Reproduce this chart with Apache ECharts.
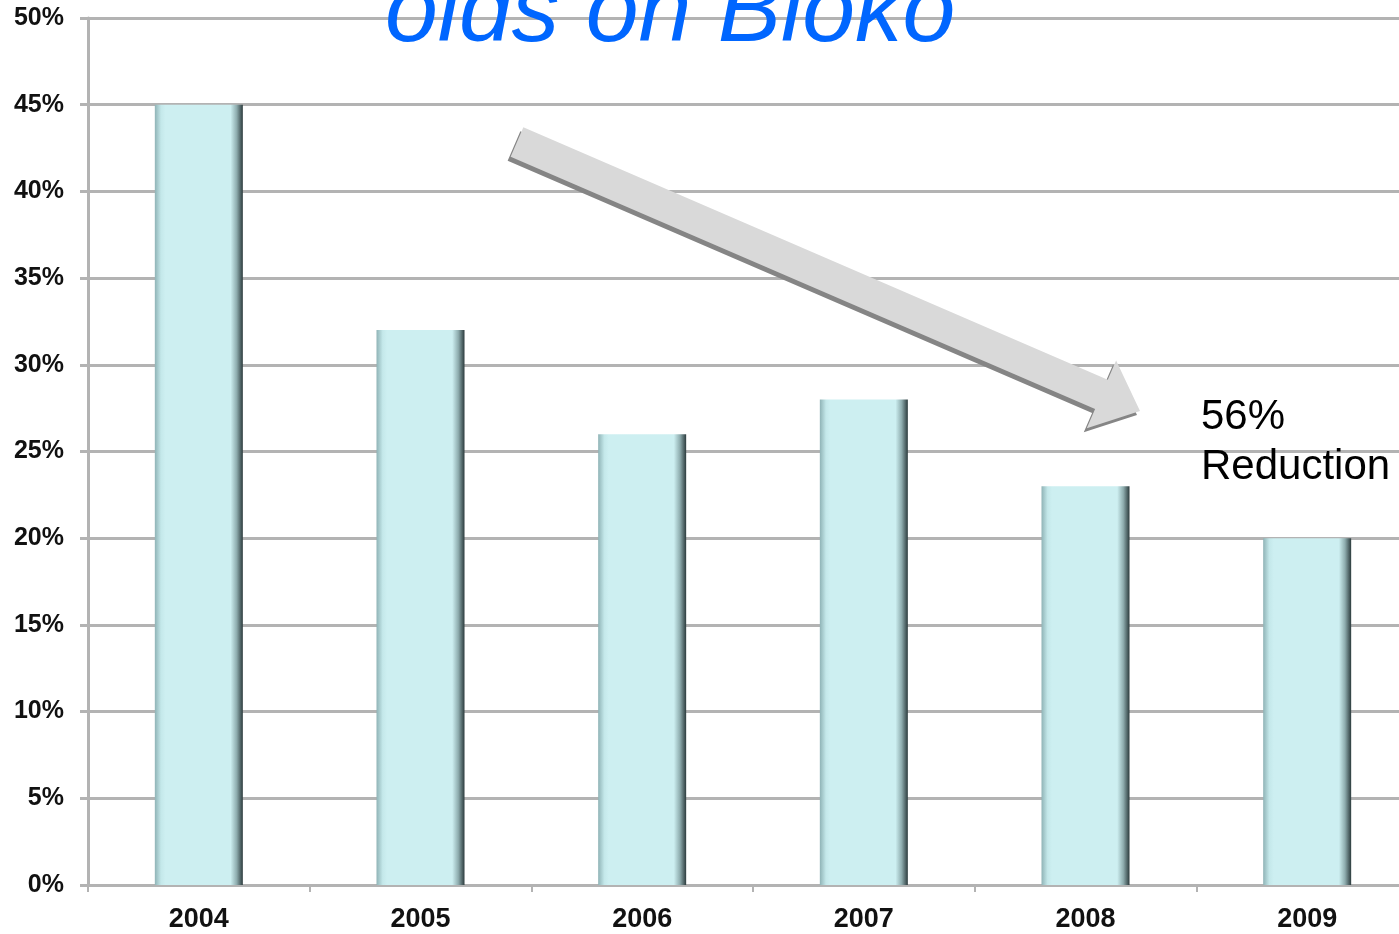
<!DOCTYPE html>
<html>
<head>
<meta charset="utf-8">
<script src="https://cdn.jsdelivr.net/npm/echarts@6/dist/echarts.min.js"></script>
<style>
html, body { margin: 0; padding: 0; background: #fff; overflow: hidden; }
/* the plot runs past the right edge of the window, as in the original slide */
#chart { width: 1418px; height: 934px; }
</style>
</head>
<body>
<div id="chart"></div>
<script>
// years and prevalence (%)
var years = ['2004', '2005', '2006', '2007', '2008', '2009'];
var prevalence = [45, 32, 26, 28, 23, 20];
var yTicks = [0, 5, 10, 15, 20, 25, 30, 35, 40, 45, 50];

var chart = echarts.init(document.getElementById('chart'));

// bevel look of the bars
var barColor = new echarts.graphic.LinearGradient(0, 0, 1, 0, [
	{ offset: 0, color: '#8fb3b6' },
	{ offset: 0.07, color: '#c4e8ea' },
	{ offset: 0.12, color: '#cdeff1' },
	{ offset: 0.86, color: '#cdeff1' },
	{ offset: 0.93, color: '#8eacae' },
	{ offset: 1, color: '#2c3b3d' }
]);

// arrow geometry (annotation)
function arrowPoints() {
	var tail = [517, 142], tip = [1140, 411];
	var dx = tip[0] - tail[0], dy = tip[1] - tail[1];
	var len = Math.sqrt(dx * dx + dy * dy);
	var ux = dx / len, uy = dy / len;
	var nx = -uy, ny = ux;
	var headLen = 42, shaftW = 16, headW = 37;
	var hx = tip[0] - ux * headLen, hy = tip[1] - uy * headLen;
	return [
		[tail[0] - nx * shaftW, tail[1] - ny * shaftW],
		[hx - nx * shaftW, hy - ny * shaftW],
		[hx - nx * headW, hy - ny * headW],
		tip,
		[hx + nx * headW, hy + ny * headW],
		[hx + nx * shaftW, hy + ny * shaftW],
		[tail[0] + nx * shaftW, tail[1] + ny * shaftW]
	];
}

var option = {
	animation: false,
	grid: {
		left: 88,
		right: 0,
		top: 18,
		bottom: 49
	},
	xAxis: {
		type: 'category',
		data: years,
		axisLine: { lineStyle: { color: '#b3b3b3', width: 3 } },
		axisTick: { show: true, length: 7, lineStyle: { color: '#b3b3b3', width: 2 } },
		axisLabel: {
			margin: 21,
			color: '#111',
			fontFamily: 'Liberation Sans, Arial, sans-serif',
			fontWeight: 'bold',
			fontSize: 27
		}
	},
	yAxis: {
		type: 'value',
		min: yTicks[0],
		max: yTicks[yTicks.length - 1],
		interval: 5,
		axisLine: { show: true, lineStyle: { color: '#b3b3b3', width: 3 } },
		axisTick: { show: true, length: 8, lineStyle: { color: '#b3b3b3', width: 3 } },
		splitLine: { lineStyle: { color: '#b3b3b3', width: 3 } },
		axisLabel: {
			margin: 24,
			formatter: '{value}%',
			color: '#111',
			fontFamily: 'Liberation Sans, Arial, sans-serif',
			fontWeight: 'bold',
			fontSize: 25
		}
	},
	series: [{
		name: 'prevalence',
		type: 'bar',
		data: prevalence,
		barWidth: 88,
		itemStyle: { color: barColor },
		z: 3
	}],
	graphic: [
		{
			type: 'text',
			left: 385,
			top: -33,
			z: 10,
			style: {
				text: 'olds on Bioko',
				fill: '#0066ff',
				font: 'italic 95px "Liberation Sans", Arial, sans-serif'
			}
		},
		{
			type: 'polygon',
			z: 10,
			shape: { points: arrowPoints() },
			style: {
				fill: '#d9d9d9',
				shadowColor: '#858585',
				shadowOffsetX: -3,
				shadowOffsetY: 4,
				shadowBlur: 0
			}
		},
		{
			type: 'text',
			left: 1201,
			top: 392,
			z: 10,
			style: {
				text: '56%\nReduction',
				fill: '#000',
				font: '42px "Liberation Sans", Arial, sans-serif',
				lineHeight: 50
			}
		}
	]
};

chart.setOption(option);
</script>
</body>
</html>
